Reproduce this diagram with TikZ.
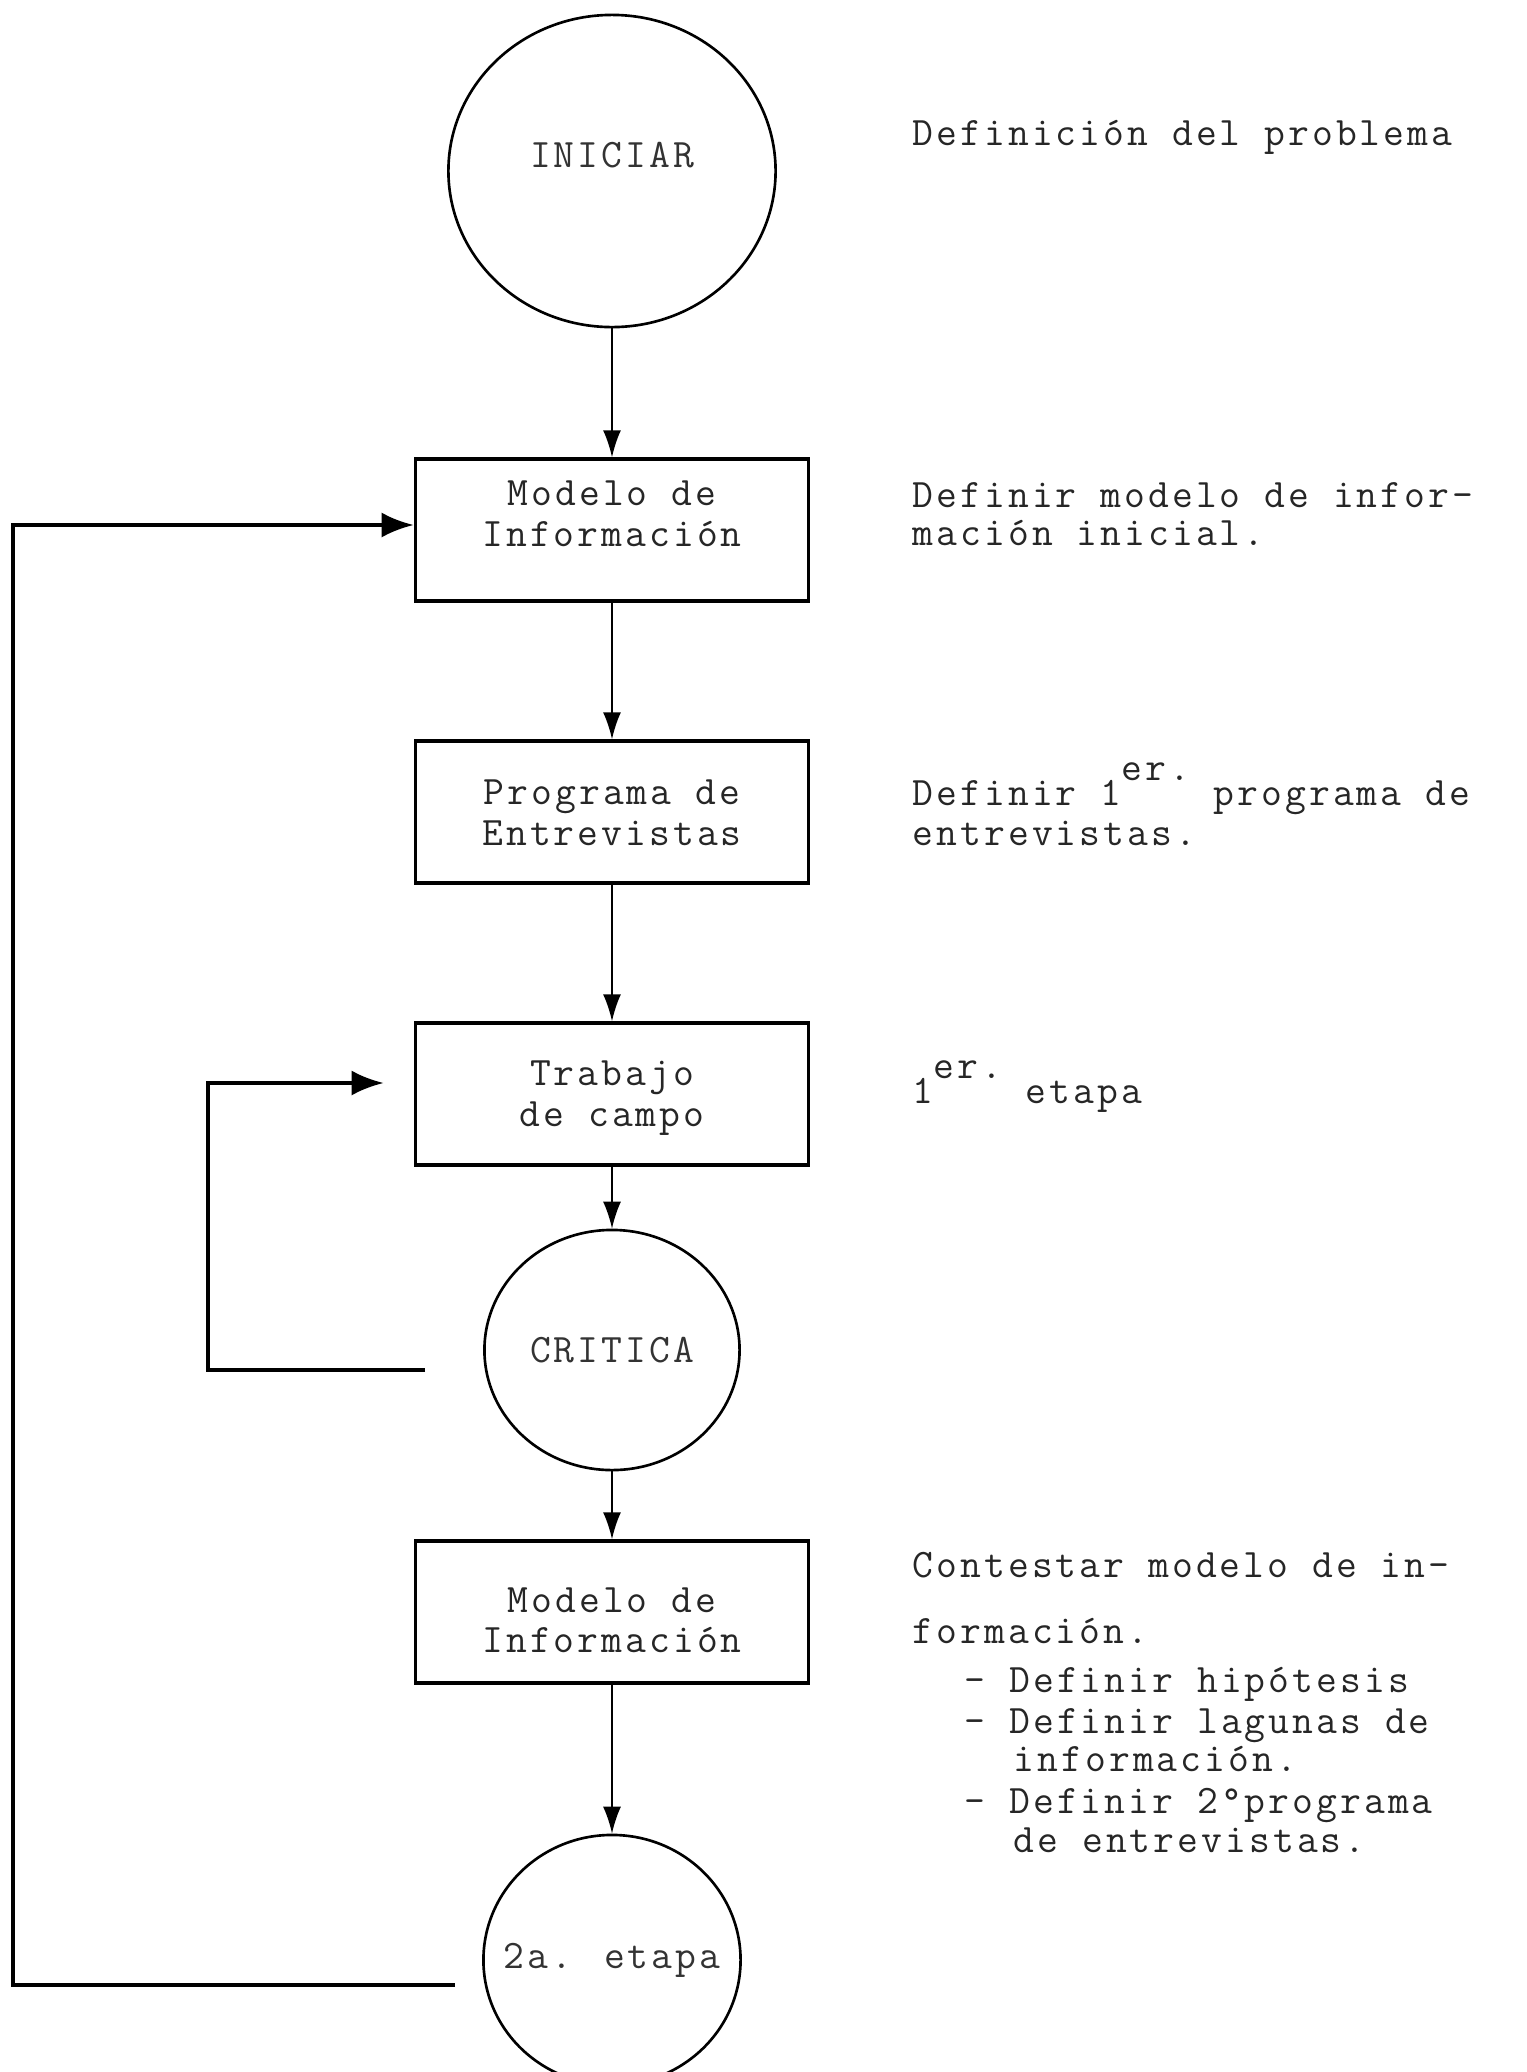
\documentclass[tikz,border=0pt]{standalone}
\usepackage{fontspec}
\usepackage{tikz}
\newfontfamily\typew{Latin Modern Mono}[LetterSpace=7.5]
\usetikzlibrary{arrows.meta,shapes.geometric}
\newcommand{\dosrenglones}[3]{\raisebox{#1}[\height][\depth]{\begin{tabular}{@{}c@{}}#2\\#3\end{tabular}}}

\begin{document}
\begin{tikzpicture}[
    x=0.01cm, y=-0.01cm,
    font=\typew\fontsize{11.5}{11.4}\selectfont,
    paso/.style={draw, line width=0.95pt, rectangle, minimum width=3.93cm, minimum height=1.42cm, inner sep=0pt, text=black!85},
    ronda/.style={draw, line width=0.75pt, ellipse, inner sep=0pt, text=black!80},
    nota/.style={anchor=base west, inner sep=0pt, text=black!85},
    arr/.style={-{Latex[length=2.7mm, width=1.8mm]}, line width=0.5pt},
    retro/.style={-{Latex[length=3.2mm, width=2.5mm]}, line width=1.1pt}
]
\path[use as bounding box] (0,0) rectangle (1527,2072);
\clip (0,0) rectangle (1527,2072);

% flujo principal
\node[ronda, minimum width=3.27cm, minimum height=3.12cm] (iniciar) at (612,171) {\raisebox{0.16cm}[\height][\depth]{INICIAR}};
\node[paso] (modelo) at (612,530) {\dosrenglones{0.12cm}{Modelo de}{Información}};
\node[paso] (programa) at (612,812) {\dosrenglones{-0.05cm}{Programa de}{Entrevistas}};
\node[paso] (trabajo) at (612,1094) {\dosrenglones{-0.04cm}{Trabajo}{de campo}};
\node[ronda, minimum width=2.55cm, minimum height=2.4cm] (critica) at (612,1350) {CRITICA};
\node[paso] (modelob) at (612,1612) {\dosrenglones{-0.12cm}{Modelo de}{Información}};
\node[ronda, minimum width=2.57cm, minimum height=2.5cm] (etapa) at (612,1960) {\makebox[1.2cm][c]{2a. etapa}};
\draw[arr] (iniciar) -- (modelo);
\draw[arr] (modelo) -- (programa);
\draw[arr] (programa) -- (trabajo);
\draw[arr] (trabajo) -- (critica);
\draw[arr] (critica) -- (modelob);
\draw[arr] (modelob) -- (etapa);

% retornos
\coordinate (criticafin) at (425,1370);
\coordinate (criticaesq) at (208,1370);
\draw[retro, shorten >=3mm] (criticafin) -- (criticaesq) |- ([yshift=0.11cm]trabajo.west);
\coordinate (etapafin) at (455,1985);
\coordinate (etapaesq) at (13,1985);
\draw[retro] (etapafin) -- (etapaesq) |- ([yshift=0.05cm]modelo.west);

% notas a la derecha
\node[nota] (def) at (912,145) {Definición del problema};
\node[nota] (defa) at (912,507) {Definir modelo de infor-};
\node[nota] (defb) at (912,545) {mación inicial.};
\node[nota] (proga) at (912,805) {Definir 1\raisebox{0.6em}{er.} programa de};
\node[nota] (progb) at (912,845) {entrevistas.};
\node[nota] (etapauno) at (912,1103) {1\raisebox{0.6em}{er.} etapa};
\node[nota] (conta) at (912,1577) {Contestar modelo de in-};
\node[nota] (contb) at (912,1643) {formación.};
\node[nota] (hipo) at (964,1692) {- Definir hipótesis};
\node[nota] (lag) at (964,1733) {- Definir lagunas de};
\node[nota] (laginf) at (1013,1771) {información.};
\node[nota] (seg) at (964,1813) {- Definir 2°programa};
\node[nota] (segent) at (1013,1852) {de entrevistas.};
\end{tikzpicture}
\end{document}
